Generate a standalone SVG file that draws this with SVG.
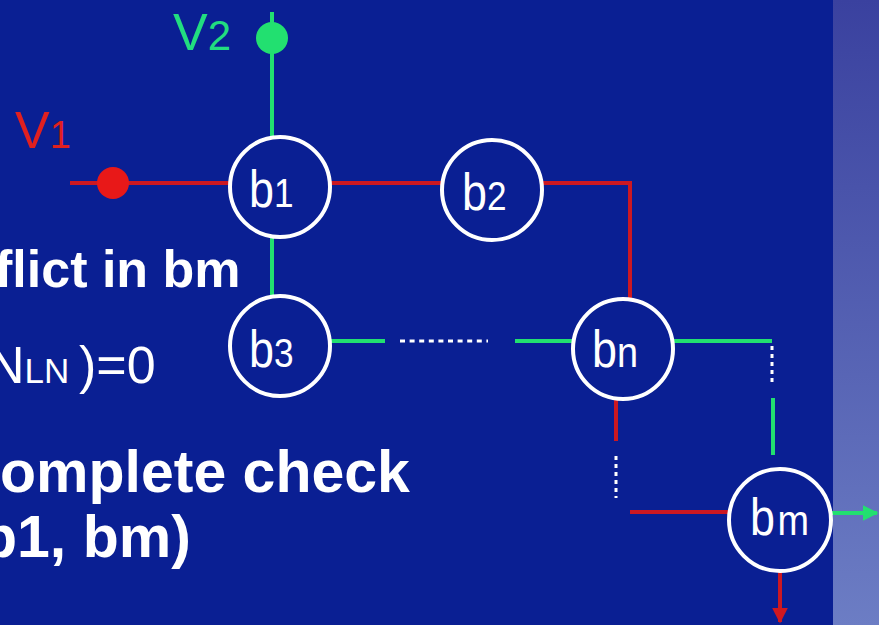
<svg xmlns="http://www.w3.org/2000/svg" width="879" height="625" viewBox="0 0 879 625">
<defs>
<linearGradient id="band" x1="0" y1="0" x2="0" y2="1">
<stop offset="0" stop-color="#3a419f"/>
<stop offset="1" stop-color="#6c7dc4"/>
</linearGradient>
<marker id="arrG" viewBox="0 0 10 10" refX="9" refY="5" markerWidth="4" markerHeight="4" orient="auto" markerUnits="strokeWidth">
<path d="M0,0 L10,5 L0,10 z" fill="#22e070"/>
</marker>
<marker id="arrR" viewBox="0 0 10 10" refX="9" refY="5" markerWidth="4" markerHeight="4" orient="auto" markerUnits="strokeWidth">
<path d="M0,0 L10,5 L0,10 z" fill="#d01820"/>
</marker>
</defs>
<style>
.red{stroke:#cc1822;stroke-width:4;fill:none}
.grn{stroke:#22e070;stroke-width:4;fill:none}
.dot{stroke:#ffffff;stroke-width:3;fill:none;stroke-dasharray:5 4.6}
.dotv{stroke:#ffffff;stroke-width:3;fill:none;stroke-dasharray:4 4}
.node{fill:#0a1f93;stroke:#ffffff;stroke-width:4}
.lbl{font-family:"Liberation Sans",Arial,sans-serif;fill:#ffffff}
.big{font-family:"Liberation Sans",Arial,sans-serif;fill:#ffffff;font-weight:bold}
</style>
<rect x="0" y="0" width="879" height="625" fill="#0a1f93"/>
<rect x="833" y="0" width="46" height="625" fill="url(#band)"/>

<g id="connectors">
<line class="red" x1="70" y1="183" x2="230" y2="183"/>
<line class="red" x1="330" y1="183" x2="443" y2="183"/>
<polyline class="red" points="541,183 630,183 630,298"/>
<line class="red" x1="616" y1="399" x2="616" y2="441"/>
<line class="dotv" x1="616" y1="456" x2="616" y2="498"/>
<line class="red" x1="630" y1="512" x2="729" y2="512"/>
<line class="red" x1="780" y1="572" x2="780" y2="622" marker-end="url(#arrR)"/>
<line class="grn" x1="272" y1="12" x2="272" y2="138"/>
<line class="grn" x1="272" y1="236" x2="272" y2="297"/>
<line class="grn" x1="330" y1="341" x2="385" y2="341"/>
<line class="dot" x1="400" y1="341" x2="488" y2="341"/>
<line class="grn" x1="515" y1="341" x2="573" y2="341"/>
<line class="grn" x1="673" y1="341" x2="772" y2="341"/>
<line class="dotv" x1="772" y1="346" x2="772" y2="386"/>
<line class="grn" x1="773" y1="398" x2="773" y2="455"/>
<line class="grn" x1="831" y1="513" x2="877" y2="513" marker-end="url(#arrG)"/>
</g>

<g id="V1">
<circle cx="113" cy="183" r="16" fill="#e81818"/>
<text x="15" y="148" font-family="'Liberation Sans',Arial,sans-serif" font-size="52" fill="#e02020">V<tspan font-size="38">1</tspan></text>
</g>
<g id="V2">
<circle cx="272" cy="38" r="16" fill="#22e070"/>
<text x="173" y="50" font-family="'Liberation Sans',Arial,sans-serif" font-size="52" fill="#22dd80">V<tspan font-size="42">2</tspan></text>
</g>

<g id="b1">
<circle class="node" cx="280" cy="187" r="50"/>
<text class="lbl" transform="translate(249,207) scale(0.88,1)" font-size="51">b<tspan font-size="40">1</tspan></text>
</g>
<g id="b2">
<circle class="node" cx="492" cy="190" r="50"/>
<text class="lbl" transform="translate(462,210) scale(0.88,1)" font-size="51">b<tspan font-size="40">2</tspan></text>
</g>
<g id="b3">
<circle class="node" cx="280" cy="346" r="50"/>
<text class="lbl" transform="translate(249,367) scale(0.88,1)" font-size="51">b<tspan font-size="40">3</tspan></text>
</g>
<g id="bn">
<circle class="node" cx="623" cy="349" r="50"/>
<text class="lbl" transform="translate(592,367) scale(0.88,1)" font-size="51">b<tspan font-size="43">n</tspan></text>
</g>
<g id="bm">
<circle class="node" cx="780" cy="520" r="51"/>
<text class="lbl" transform="translate(750,535) scale(0.88,1)" font-size="51">b<tspan dx="3" font-size="43">m</tspan></text>
</g>

<g id="text">
<text class="big" x="-5" y="287" font-size="52">flict in bm</text>
<text class="lbl" x="-13" y="383" font-size="52">N<tspan font-size="35">LN </tspan>)=0</text>
<text class="big" x="0" y="492" font-size="59">omplete check</text>
<text class="big" x="-19" y="557" font-size="59">b1, bm)</text>
</g>
</svg>
